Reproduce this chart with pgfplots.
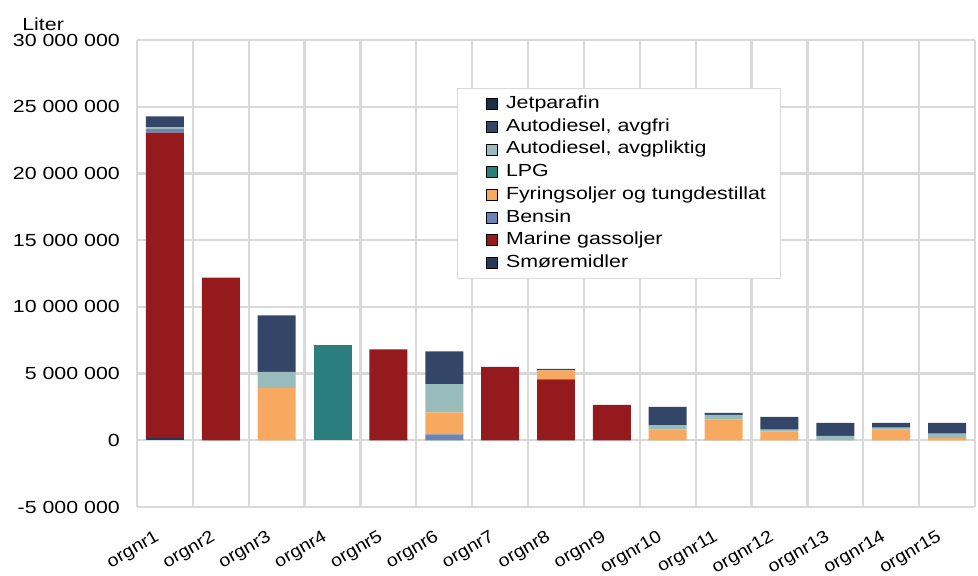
\documentclass[border=0pt]{standalone}
\usepackage{pgfplots}
\pgfplotsset{compat=1.18}
\usepackage{pgfplotstable}
\usepackage{fontspec}
\setmainfont{Liberation Sans}[FakeStretch=1.22]
\newfontfamily\labelfont{Liberation Sans}[FakeStretch=1.12]

\definecolor{smo}{HTML}{253858}
\definecolor{marine}{HTML}{951A1D}
\definecolor{bensin}{HTML}{6C84B4}
\definecolor{fyr}{HTML}{F7AA5F}
\definecolor{lpg}{HTML}{2A7F7E}
\definecolor{avgpl}{HTML}{98BCBC}
\definecolor{avgfri}{HTML}{334667}
\definecolor{jet}{HTML}{1E2E4A}
\definecolor{gridgray}{HTML}{D9D9D9}
\definecolor{zerogray}{HTML}{BFBFBF}

% liter per orgnr, bottom series first
\pgfplotstableread{
x  smo     marine    bensin  fyr     lpg     avgpl   avgfri  jet
1  150000  22900000  270000  0       0       150000  800000  0
2  0       12200000  0       0       0       0       0       0
3  0       0         0       3900000 0       1220000 4250000 0
4  0       0         0       0       7120000 0       0       0
5  0       6820000   0       0       0       0       0       0
6  0       0         450000  1650000 0       2100000 2470000 0
7  0       5500000   0       0       0       0       0       0
8  0       4560000   0       680000  0       0       120000  0
9  0       2660000   0       0       0       0       0       0
10 0       0         0       790000  0       350000  1370000 0
11 0       0         0       1540000 0       370000  150000  0
12 0       0         0       640000  0       150000  970000  0
13 0       0         0       0       0       340000  970000  0
14 0       0         0       790000  0       150000  370000  0
15 0       0         0       190000  0       300000  820000  0
}\fuel

\begin{document}
\begin{tikzpicture}
\begin{axis}[
  scale only axis,
  width=838pt, height=467pt,
  ybar stacked, bar width=0.68,
  xmin=0.5, xmax=15.5,
  ymin=-5000000, ymax=30000000,
  clip=false,
  axis line style={draw=none},
  major tick length=0, minor tick length=0,
  xtick={1,2,3,4,5,6,7,8,9,10,11,12,13,14,15},
  xticklabels={orgnr1,orgnr2,orgnr3,orgnr4,orgnr5,orgnr6,orgnr7,orgnr8,orgnr9,orgnr10,orgnr11,orgnr12,orgnr13,orgnr14,orgnr15},
  minor xtick={0.5,1.5,2.5,3.5,4.5,5.5,6.5,7.5,8.5,9.5,10.5,11.5,12.5,13.5,14.5,15.5},
  xminorgrids=true, xmajorgrids=false, ymajorgrids=true,
  ytick={-5000000,0,5000000,10000000,15000000,20000000,25000000,30000000},
  scaled y ticks=false,
  /pgf/number format/fixed,
  /pgf/number format/precision=0,
  /pgf/number format/1000 sep={\ },
  /pgf/number format/assume math mode=true,
  every tick label/.append style={font=\fontsize{17.5}{20}\selectfont},
  yticklabel style={inner sep=0pt, xshift=-17pt},
  xticklabel style={xshift=-11pt, yshift=-22pt, rotate=30, anchor=north east, inner sep=0pt, font=\labelfont\fontsize{17.5}{20}\selectfont},
  major grid style={draw=gridgray, line width=2.2pt},
  minor grid style={draw=gridgray, line width=2.2pt},
  extra y ticks={0}, extra y tick labels={},
  extra y tick style={grid style={draw=zerogray, line width=2.6pt}},
  every axis plot/.append style={draw=none},
  reverse legend,
  legend image code/.code={\path (0pt,0pt) (33pt,0pt); \draw[#1] (15pt,-5.5pt) rectangle (26pt,5.5pt);},
  legend style={at={(0.382,0.897)}, anchor=north west, draw=gridgray, line width=0.8pt,
    font=\fontsize{17.5}{20}\selectfont, cells={anchor=west}, row sep=3.7pt,
    inner xsep=13pt, inner ysep=6pt,
    nodes={inner sep=1.5pt, text height=12.5pt, text depth=3.5pt}},
]
\addplot[fill=smo] table[x=x, y=smo] {\fuel};
\addplot[fill=marine] table[x=x, y=marine] {\fuel};
\addplot[fill=bensin] table[x=x, y=bensin] {\fuel};
\addplot[fill=fyr] table[x=x, y=fyr] {\fuel};
\addplot[fill=lpg] table[x=x, y=lpg] {\fuel};
\addplot[fill=avgpl] table[x=x, y=avgpl] {\fuel};
\addplot[fill=avgfri] table[x=x, y=avgfri] {\fuel};
\addplot[fill=jet, draw=black, line width=1pt] table[x=x, y=jet] {\fuel};
\legend{Smøremidler,Marine gassoljer,Bensin,Fyringsoljer og tungdestillat,LPG,{Autodiesel, avgpliktig},{Autodiesel, avgfri},Jetparafin}
\node[anchor=base, font=\fontsize{17.5}{20}\selectfont] at (rel axis cs:-0.112,1) [yshift=10pt] {Liter};
\end{axis}
\pgfresetboundingbox
\useasboundingbox (-137pt,-69pt) rectangle (841pt,507pt);
\end{tikzpicture}
\end{document}
